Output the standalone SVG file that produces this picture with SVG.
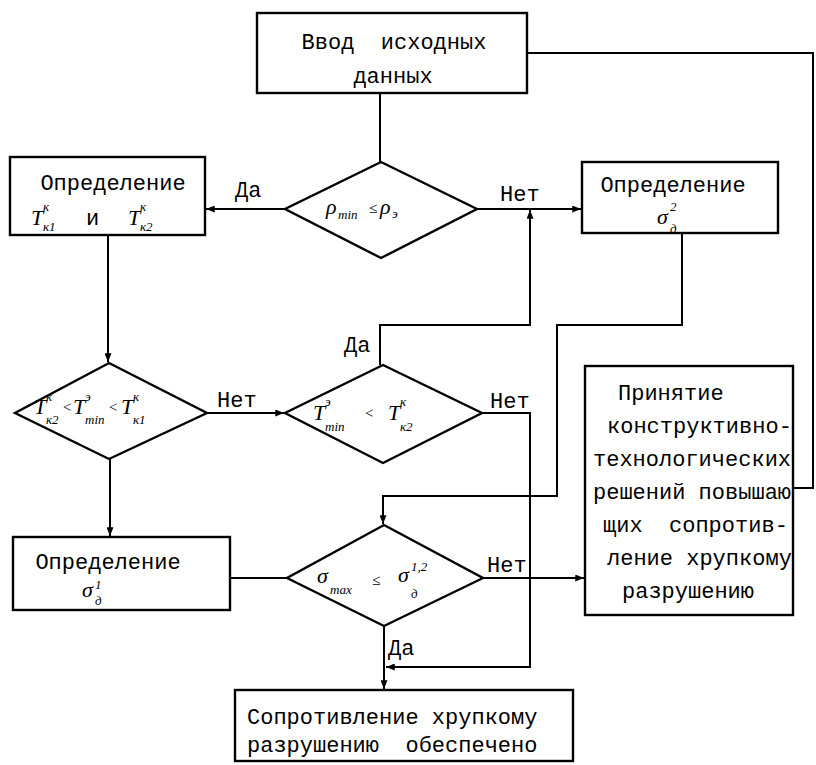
<svg xmlns="http://www.w3.org/2000/svg" width="816" height="765" viewBox="0 0 816 765">
<style>
.bx{fill:#fff;stroke:#000;stroke-width:2.4}
.ln{fill:none;stroke:#000;stroke-width:2}
.t{font-family:"Liberation Mono","DejaVu Sans Mono",monospace;font-size:22px;fill:#000}
.m{font-family:"Liberation Serif","DejaVu Serif",serif;font-style:italic;font-size:22px;fill:#000}
.s{font-size:13px}
.r{font-size:15px}
</style>
<defs>
<marker id="a" viewBox="0 0 10 8" refX="10" refY="4" markerWidth="9" markerHeight="7" markerUnits="userSpaceOnUse" orient="auto">
<path d="M0,0 L10,4 L0,8 z" fill="#000"/>
</marker>
</defs>
<g id="connectors">
<path class="ln" d="M380,93 V162"/>
<path class="ln" d="M285,209 H206" marker-end="url(#a)"/>
<path class="ln" d="M477,209 H581" marker-end="url(#a)"/>
<path class="ln" d="M108,235 V362" marker-end="url(#a)"/>
<path class="ln" d="M207,413 H284" marker-end="url(#a)"/>
<path class="ln" d="M380,365 V325 H530 V210" marker-end="url(#a)"/>
<path class="ln" d="M482,413 H530 V667 H386" marker-end="url(#a)"/>
<path class="ln" d="M682,233 V325 H557 V496 H383 V524" marker-end="url(#a)"/>
<path class="ln" d="M110,459 V536" marker-end="url(#a)"/>
<path class="ln" d="M230,578 H287"/>
<path class="ln" d="M483,578 H584" marker-end="url(#a)"/>
<path class="ln" d="M384,626 V689" marker-end="url(#a)"/>
<path class="ln" d="M793,488 H813 V53 H527"/>
<text class="t" x="235" y="197">Да</text>
<text class="t" x="500" y="201">Нет</text>
<text class="t" x="217" y="407">Нет</text>
<text class="t" x="344" y="352">Да</text>
<text class="t" x="490" y="408">Нет</text>
<text class="t" x="487" y="572">Нет</text>
<text class="t" x="388" y="655">Да</text>
</g>
<g id="n-input">
<rect class="bx" x="257" y="13" width="270" height="80"/>
<text class="t" x="394" y="49" text-anchor="middle" xml:space="preserve">Ввод  исходных</text>
<text class="t" x="393" y="83" text-anchor="middle">данных</text>
</g>
<g id="n-d1">
<polygon class="bx" points="381,162 477,209 381,258 285,209"/>
<text class="m"><tspan x="326" y="214">ρ</tspan><tspan class="s" x="338" y="219">min</tspan><tspan class="r" x="369" y="213">≤</tspan><tspan x="380" y="214">ρ</tspan><tspan class="s" x="392" y="218">э</tspan></text>
</g>
<g id="n-tk">
<rect class="bx" x="10" y="157" width="195" height="78"/>
<text class="t" x="113" y="190" text-anchor="middle">Определение</text>
<text class="m"><tspan x="31" y="225">T</tspan><tspan class="s" x="43" y="211">к</tspan><tspan class="s" x="43" y="231">к1</tspan><tspan x="128" y="225">T</tspan><tspan class="s" x="140" y="211">к</tspan><tspan class="s" x="140" y="231">к2</tspan></text>
<text class="t" x="86" y="225">и</text>
</g>
<g id="n-sd2">
<rect class="bx" x="582" y="162" width="196" height="71"/>
<text class="t" x="673" y="192" text-anchor="middle">Определение</text>
<text class="m"><tspan x="657" y="224">σ</tspan><tspan class="s" x="670" y="211">2</tspan><tspan class="s" x="670" y="233">д</tspan></text>
</g>
<g id="n-d2">
<polygon class="bx" points="109,363 207,413 109,459 15,413"/>
<text class="m"><tspan x="34" y="414">T</tspan><tspan class="s" x="46" y="401">к</tspan><tspan class="s" x="46" y="424">к2</tspan><tspan class="r" x="62" y="412">&lt;</tspan><tspan x="73" y="414">T</tspan><tspan class="s" x="85" y="401">э</tspan><tspan class="s" x="85" y="424">min</tspan><tspan class="r" x="108" y="412">&lt;</tspan><tspan x="121" y="414">T</tspan><tspan class="s" x="133" y="401">к</tspan><tspan class="s" x="133" y="424">к1</tspan></text>
</g>
<g id="n-d3">
<polygon class="bx" points="383,365 482,413 383,463 285,413"/>
<text class="m"><tspan x="313" y="420">T</tspan><tspan class="s" x="325" y="406">э</tspan><tspan class="s" x="325" y="431">min</tspan><tspan class="r" x="364" y="418">&lt;</tspan><tspan x="388" y="420">T</tspan><tspan class="s" x="400" y="406">к</tspan><tspan class="s" x="400" y="431">к2</tspan></text>
</g>
<g id="n-accept">
<rect class="bx" x="585" y="366" width="208" height="249"/>
<g class="t">
<text x="618" y="400">Принятие</text>
<text x="607" y="433">конструктивно-</text>
<text x="593" y="466">технологических</text>
<text x="593" y="499">решений повышаю</text>
<text x="603" y="532" xml:space="preserve">щих  сопротив-</text>
<text x="607" y="565">ление хрупкому</text>
<text x="622" y="598">разрушению</text>
</g>
</g>
<g id="n-sd1">
<rect class="bx" x="13" y="537" width="217" height="73"/>
<text class="t" x="108" y="569" text-anchor="middle">Определение</text>
<text class="m"><tspan x="82" y="597">σ</tspan><tspan class="s" x="95" y="589">1</tspan><tspan class="s" x="95" y="605">д</tspan></text>
</g>
<g id="n-d4">
<polygon class="bx" points="384,525 483,578 384,626 287,578"/>
<text class="m"><tspan x="317" y="583">σ</tspan><tspan class="s" x="330" y="594">max</tspan><tspan class="r" x="372" y="585">≤</tspan><tspan x="398" y="582">σ</tspan><tspan class="s" x="411" y="571">1,2</tspan><tspan class="s" x="411" y="598">д</tspan></text>
</g>
<g id="n-result">
<rect class="bx" x="235" y="690" width="338" height="71"/>
<text class="t" x="247" y="724">Сопротивление хрупкому</text>
<text class="t" x="247" y="752" xml:space="preserve">разрушению  обеспечено</text>
</g>
</svg>
